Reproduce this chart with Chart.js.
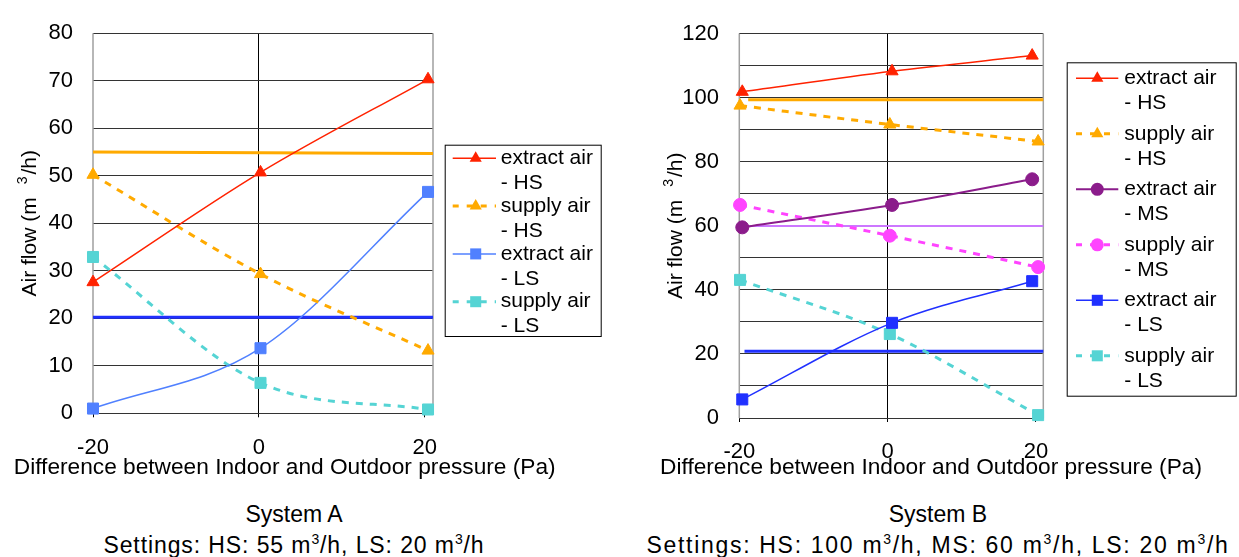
<!DOCTYPE html>
<html>
<head>
<meta charset="utf-8">
<script src="https://cdn.jsdelivr.net/npm/chart.js@4.4.0/dist/chart.umd.min.js"></script>
<style>
body { margin:0; background:#fff; width:1239px; height:557px; position:relative; overflow:hidden; font-family:"Liberation Sans", Arial, sans-serif; }
#wrapA { position:absolute; left:0; top:0; width:620px; height:490px; }
#wrapB { position:absolute; left:620px; top:0; width:619px; height:490px; }
.caption { position:absolute; top:499px; text-align:center; font-size:23px; line-height:31px; color:#000; white-space:nowrap; }
.caption sup { font-size:14px; line-height:0; }
</style>
</head>
<body>
<div id="wrapA"><canvas id="chartA"></canvas></div>
<div id="wrapB"><canvas id="chartB"></canvas></div>
<div class="caption" style="left:0;width:588px;">System A<br><span style="letter-spacing:0.9px">Settings: HS: 55 m<sup>3</sup>/h, LS: 20 m<sup>3</sup>/h</span></div>
<div class="caption" style="left:638px;width:600px;">System B<br><span style="letter-spacing:1.7px">Settings: HS: 100 m<sup>3</sup>/h, MS: 60 m<sup>3</sup>/h, LS: 20 m<sup>3</sup>/h</span></div>
<script>
// pressure difference (Pa)
var xTicks = [-20, 0, 20];
var pressureA = [-20, 0.2, 20.4];
var pressureExtractB = [-19.6, 0.6, 19.5];
var pressureSupplyB = [-19.9, 0.3, 20.3];

// System A air flows (m3/h)
var extractHS_A = [27.6, 50.7, 70.3];
var supplyHS_A = [50.2, 29.3, 13.2];
var extractLS_A = [1.0, 13.7, 46.6];
var supplyLS_A = [32.9, 6.4, 0.8];
var settingX_A = [-20, 21];
var settingHS_A = [55, 54.7];
var settingLS_A = [20.2, 20.2];

// System B air flows (m3/h)
var extractHS_B = [101.8, 108.2, 113.1];
var supplyHS_B = [97.5, 91.6, 86.3];
var extractMS_B = [59.5, 66.5, 74.5];
var supplyMS_B = [66.5, 56.9, 47.1];
var extractLS_B = [5.8, 29.7, 42.7];
var supplyLS_B = [43.1, 26.2, 0.9];
var settingHSX_B = [-18.8, 21];
var settingHS_B = [99.3, 99.3];
var settingMSX_B = [-20, 21];
var settingMS_B = [59.9, 59.9];
var settingLSX_B = [-19.3, 21];
var settingLS_B = [20.8, 20.8];

var legendA = [["extract air", "- HS"], ["supply air", "- HS"], ["extract air", "- LS"], ["supply air", "- LS"]];
var legendB = [["extract air", "- HS"], ["supply air", "- HS"], ["extract air", "- MS"], ["supply air", "- MS"], ["extract air", "- LS"], ["supply air", "- LS"]];
var xTitle = "Difference between Indoor and Outdoor pressure (Pa)";

var FONT = '"Liberation Sans", Arial, sans-serif';
Chart.defaults.font.family = FONT;
Chart.defaults.color = "#000";

var red = "#ff2200", orange = "#ffaa00", cyan = "#55d4d4";
var purple = "#8b1c8b", magenta = "#ff44ff", violet = "#cc77ff";

pts = function (xs, ys) {
	return xs.map(function (x, i) { return { x: x, y: ys[i] }; });
};

series = function (xs, ys, color, style, r, dashed, width) {
	return {
		data: pts(xs, ys),
		borderColor: color,
		backgroundColor: color,
		borderWidth: width,
		borderDash: dashed ? [7, 7] : [],
		pointStyle: style,
		pointRadius: r,
		pointBorderWidth: 1,
		showLine: true,
		cubicInterpolationMode: "monotone",
		clip: false,
	};
};

setting = function (xs, ys, color, width) {
	return {
		data: pts(xs, ys),
		borderColor: color,
		borderWidth: width,
		pointRadius: 0,
		showLine: true,
		clip: false,
	};
};

drawMarker = function (ctx, style, r, x, y, color) {
	ctx.fillStyle = color;
	ctx.beginPath();
	if (style == "triangle") {
		ctx.moveTo(x, y - r);
		ctx.lineTo(x - r * Math.sin(Math.PI / 3), y + r / 2);
		ctx.lineTo(x + r * Math.sin(Math.PI / 3), y + r / 2);
		ctx.closePath();
	} else if (style == "rect") {
		var s = r * Math.SQRT1_2;
		ctx.rect(x - s, y - s, 2 * s, 2 * s);
	} else {
		ctx.arc(x, y, r, 0, Math.PI * 2);
	}
	ctx.fill();
};

legendPlugin = function (labels, box) {
	return {
		id: "sideLegend",
		afterDraw: function (chart) {
			var ctx = chart.ctx;
			ctx.save();
			ctx.strokeStyle = "#000";
			ctx.lineWidth = 1;
			ctx.setLineDash([]);
			ctx.strokeRect(box.x + 0.5, box.y + 0.5, box.w, box.h);
			ctx.font = "21px " + FONT;
			ctx.textBaseline = "middle";
			for (var i = 0; i < labels.length; i++) {
				var ds = chart.data.datasets[i];
				var y = box.firstY + i * box.step;
				ctx.strokeStyle = ds.borderColor;
				ctx.lineWidth = ds.borderWidth;
				ctx.setLineDash(ds.borderDash.length ? [6, 8] : []);
				ctx.beginPath();
				ctx.moveTo(box.x0, y);
				ctx.lineTo(box.x1, y);
				ctx.stroke();
				ctx.setLineDash([]);
				drawMarker(ctx, ds.pointStyle, ds.pointRadius, box.mx, y, ds.borderColor);
				ctx.fillStyle = "#000";
				ctx.fillText(labels[i][0], box.tx, y);
				ctx.fillText(labels[i][1], box.tx, y + 25);
			}
			ctx.restore();
		},
	};
};

// axis titles drawn by hand: the x title is wider than the plot, the y title has a raised 3
titlesPlugin = function (xCenter) {
	return {
		id: "axisTitles",
		afterDraw: function (chart) {
			var ctx = chart.ctx, a = chart.chartArea;
			ctx.save();
			ctx.fillStyle = "#000";
			ctx.textBaseline = "middle";
			ctx.textAlign = "center";
			ctx.font = "22.7px " + FONT;
			ctx.fillText(xTitle, xCenter, 468);
			// y title, rotated
			ctx.translate(a.left - 63, (a.top + a.bottom) / 2);
			ctx.rotate(-Math.PI / 2);
			ctx.textAlign = "left";
			ctx.font = "21px " + FONT;
			var p1 = "Air flow (m", p2 = "3", p3 = "/h)";
			var w1 = ctx.measureText(p1).width, w3 = ctx.measureText(p3).width;
			ctx.font = "14px " + FONT;
			var w2 = ctx.measureText(p2).width;
			var total = w1 + 13 + w2 + 2 + w3;
			var x = -total / 2;
			ctx.font = "21px " + FONT;
			ctx.fillText(p1, x, 0);
			ctx.font = "14px " + FONT;
			ctx.fillText(p2, x + w1 + 13, -7);
			ctx.font = "21px " + FONT;
			ctx.fillText(p3, x + w1 + 13 + w2 + 2, 0);
			ctx.restore();
		},
	};
};

var sideBorder = {
	id: "sideBorder",
	beforeDatasetsDraw: function (chart) {
		var a = chart.chartArea, ctx = chart.ctx;
		ctx.save();
		ctx.strokeStyle = "#a0a0a0";
		ctx.lineWidth = 1.5;
		ctx.beginPath();
		ctx.moveTo(a.left, a.top);
		ctx.lineTo(a.left, a.bottom);
		ctx.moveTo(a.right, a.top);
		ctx.lineTo(a.right, a.bottom);
		ctx.stroke();
		ctx.restore();
	},
};

makeOptions = function (c) {
	return {
		animation: false,
		responsive: false,
		events: [],
		layout: { padding: { left: c.padLeft, right: c.padRight, top: c.padTop, bottom: c.padBottom } },
		plugins: { legend: { display: false }, tooltip: { enabled: false } },
		scales: {
			x: {
				type: "linear",
				min: -20,
				max: 21,
				afterBuildTicks: function (s) { s.ticks = xTicks.map(function (v) { return { value: v }; }); },
				afterFit: function (s) { s.height = c.xHeight; },
				ticks: { padding: 17, font: { size: 22 }, maxRotation: 0, autoSkip: false },
				grid: {
					color: function (ctx) { return ctx.tick && ctx.tick.value === 0 ? "#000" : "rgba(0,0,0,0)"; },
					tickColor: "#000",
					tickLength: 4,
				},
				border: { display: false },
			},
			y: {
				min: 0,
				max: c.yMax,
				afterFit: function (s) { s.width = c.yWidth; },
				ticks: {
					stepSize: 10,
					padding: c.tickPad,
					font: { size: 22 },
					callback: function (v) { return v % c.labelStep === 0 ? v : ""; },
				},
				grid: { drawTicks: false, color: "#333", lineWidth: 1 },
				border: { display: false },
			},
		},
	};
};

var cA = document.getElementById("chartA");
cA.width = 620; cA.height = 490;
new Chart(cA.getContext("2d"), {
	type: "scatter",
	data: {
		datasets: [
			series(pressureA, extractHS_A, red, "triangle", 7, false, 1.5),
			series(pressureA, supplyHS_A, orange, "triangle", 7, true, 3),
			series(pressureA, extractLS_A, "#5080ff", "rect", 7.8, false, 1.5),
			series(pressureA, supplyLS_A, cyan, "rect", 7.8, true, 3),
			setting(settingX_A, settingHS_A, orange, 3),
			setting(settingX_A, settingLS_A, "#2030ff", 3),
		],
	},
	options: makeOptions({ padLeft: 18, padRight: 187, padTop: 24.7, padBottom: 10, xHeight: 66.7, yWidth: 75, tickPad: 20, yMax: 80, labelStep: 10 }),
	plugins: [sideBorder, titlesPlugin(284.7), legendPlugin(legendA, { x: 444.7, y: 144.7, w: 156, h: 191.3, firstY: 158.3, step: 47.8, x0: 452.7, x1: 496, mx: 475.7, tx: 500.7 })],
});

var cB = document.getElementById("chartB");
cB.width = 619; cB.height = 490;
new Chart(cB.getContext("2d"), {
	type: "scatter",
	data: {
		datasets: [
			series(pressureExtractB, extractHS_B, red, "triangle", 7, false, 1.5),
			series(pressureSupplyB, supplyHS_B, orange, "triangle", 7, true, 3),
			series(pressureExtractB, extractMS_B, purple, "circle", 6.5, false, 2),
			series(pressureSupplyB, supplyMS_B, magenta, "circle", 6.5, true, 3),
			series(pressureExtractB, extractLS_B, "#2030ff", "rect", 7.8, false, 1.5),
			series(pressureSupplyB, supplyLS_B, cyan, "rect", 7.8, true, 3),
			setting(settingHSX_B, settingHS_B, orange, 3),
			setting(settingMSX_B, settingMS_B, violet, 2),
			setting(settingLSX_B, settingLS_B, "#2030ff", 3),
		],
	},
	options: makeOptions({ padLeft: 31, padRight: 195.7, padTop: 26.7, padBottom: 8, xHeight: 64, yWidth: 88.3, tickPad: 20.3, yMax: 120, labelStep: 20 }),
	plugins: [sideBorder, titlesPlugin(311), legendPlugin(legendB, { x: 446.7, y: 62.3, w: 169, h: 333.4, firstY: 78.3, step: 55.5, x0: 456, x1: 498.3, mx: 477.3, tx: 504.3 })],
});
</script>
</body>
</html>
